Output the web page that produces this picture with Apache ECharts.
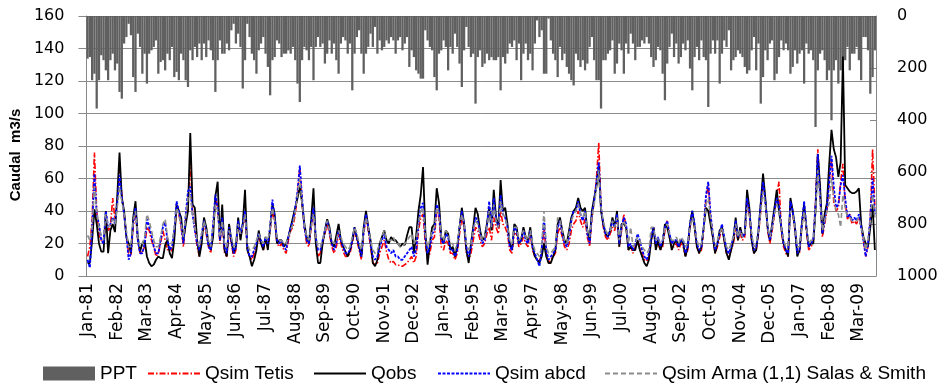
<!DOCTYPE html>
<html>
<head>
<meta charset="utf-8">
<script src="https://cdn.jsdelivr.net/npm/echarts@6/dist/echarts.min.js"></script>
<style>
html,body{margin:0;padding:0;background:#fff;}
#c{width:947px;height:384px;}
</style>
</head>
<body>
<div id="c"></div>
<script>
// Months Jan-1981 .. Oct-2009
const monthNames = ['Jan','Feb','Mar','Apr','May','Jun','Jul','Aug','Sep','Oct','Nov','Dec'];
const firstYear = 1981;
const nMonths = 346;

// PPT (mm), right inverted axis
const ppt = [
164,158,247,222,356,247,151,170,209,247,170,145,
209,183,292,318,106,81,30,74,235,292,68,119,
222,145,260,145,132,119,94,222,177,170,209,145,
170,119,235,215,247,145,170,247,273,132,170,119,
158,106,170,106,158,94,132,170,292,170,94,145,
145,106,132,55,30,106,68,119,279,170,30,81,
145,170,222,132,106,81,145,196,305,170,158,94,
106,158,145,145,132,145,119,170,260,331,170,119,
132,170,119,247,119,81,119,106,183,145,94,145,
106,170,222,106,81,94,145,106,286,145,81,55,
145,222,145,119,68,119,42,145,94,132,119,94,
106,81,94,145,94,81,132,106,81,196,132,158,
209,222,241,241,55,94,119,132,235,286,145,132,
94,119,209,119,145,68,119,183,273,132,42,119,
158,145,337,158,132,196,183,145,170,158,170,170,
158,286,158,183,145,106,119,94,170,106,247,145,
106,170,145,209,106,17,81,55,222,222,10,94,
145,170,235,119,170,145,196,222,247,267,145,170,
196,170,209,183,119,81,170,247,247,356,170,170,
145,132,94,222,183,106,132,222,106,145,68,106,
170,119,119,94,106,81,106,158,196,170,119,132,
222,324,183,119,68,158,106,183,158,106,132,94,
202,286,158,119,170,94,158,170,350,145,94,145,
94,260,145,94,119,55,209,170,158,132,145,158,
196,222,209,132,81,209,106,337,235,132,170,106,
94,247,222,158,94,132,106,132,222,196,132,183,
145,132,260,106,145,132,170,427,209,145,132,170,
247,209,401,209,170,260,209,196,170,119,209,145,
145,119,170,247,81,81,132,299,235,132
];

const qsimTetis = [
12,18,35,76,40,25,22,20,35,28,30,48,
35,45,65,50,38,25,14,12,30,40,22,14,
15,18,30,28,22,18,12,14,20,28,22,16,
18,15,25,42,38,30,18,35,45,70,40,30,
18,12,24,32,26,18,14,30,48,42,20,35,
14,12,28,20,12,16,32,24,30,38,16,12,
10,14,18,24,20,16,22,18,28,40,34,20,
18,20,16,14,22,28,30,38,50,67,45,30,
20,18,30,40,22,12,14,20,26,32,26,18,
14,18,26,20,15,12,12,14,20,28,22,16,
10,26,36,28,18,8,7,8,14,18,22,15,
10,8,9,7,7,6,6,7,8,10,12,8,
12,28,36,38,20,10,14,22,24,40,36,18,
16,22,20,14,14,10,14,26,36,30,14,10,
14,22,30,28,22,18,20,26,30,22,36,30,
26,40,32,30,26,16,14,26,26,18,20,24,
20,18,26,16,12,10,9,14,30,14,8,10,
12,14,26,30,24,18,16,20,28,32,34,40,
34,30,35,24,18,35,46,60,82,42,30,24,
22,26,30,28,36,18,28,38,30,16,18,14,
18,22,18,14,10,9,12,22,30,18,20,16,
18,28,34,24,18,18,20,16,20,18,12,16,
30,38,30,18,14,16,28,48,56,36,24,14,
18,24,30,22,14,12,16,20,30,22,26,22,
24,46,38,22,14,16,26,40,60,46,28,20,
28,38,50,58,28,18,14,12,46,38,28,14,
14,30,42,28,16,18,20,45,78,50,24,32,
40,60,72,45,40,42,58,69,45,35,38,32,
34,32,36,30,22,12,18,35,78,42
];

const qobs = [
8,8,22,41,32,20,15,15,40,14,28,32,
27,49,76,48,40,24,20,14,36,46,24,15,
20,22,12,8,6,7,10,12,11,11,19,22,
14,11,22,44,40,36,22,32,40,88,44,42,
22,12,20,36,30,20,16,24,49,58,22,44,
16,12,32,22,14,18,36,22,32,53,16,12,
6,10,16,28,20,16,24,16,30,44,38,20,
22,22,18,20,24,30,36,42,48,55,45,32,
24,20,35,54,20,8,8,20,28,35,30,20,
18,25,32,22,18,15,12,16,22,30,24,18,
12,30,40,30,22,8,6,10,20,24,28,22,
20,24,22,22,20,18,20,19,25,30,30,14,
25,40,50,67,28,7,20,30,32,54,45,24,
20,28,26,16,18,12,18,30,42,32,16,8,
20,30,42,38,28,22,24,32,42,28,53,36,
30,59,40,42,32,20,16,32,30,20,22,30,
24,22,30,18,12,10,8,12,20,12,8,8,
12,16,32,36,28,22,20,28,36,40,42,48,
42,40,42,28,22,40,48,55,67,40,32,26,
24,28,36,30,40,18,32,32,30,16,18,16,
16,22,16,12,8,6,10,22,30,16,22,16,
20,32,30,24,16,20,22,18,22,20,12,18,
32,40,30,18,14,18,30,42,40,32,24,14,
20,28,30,22,14,10,16,22,36,22,30,24,
26,53,42,22,14,16,28,45,63,48,30,22,
32,42,53,40,30,20,16,12,48,40,30,12,
16,32,44,30,18,20,20,40,75,55,26,38,
45,69,90,78,73,61,70,135,56,54,52,51,
51,52,54,32,24,20,18,30,44,16
];

const qsimAbcd = [
10,5,30,63,38,32,22,20,40,30,32,36,
32,45,62,48,38,25,10,14,33,42,22,14,
14,20,35,30,25,18,14,14,22,30,33,22,
16,18,28,46,40,32,20,38,52,55,38,28,
20,16,26,34,28,18,16,32,50,42,22,36,
18,14,30,22,14,18,34,26,32,40,18,12,
12,16,20,26,22,18,24,20,30,47,36,22,
20,22,18,16,24,30,34,42,52,68,48,30,
22,20,32,42,24,16,16,22,28,34,28,20,
16,20,28,22,18,14,14,16,22,30,24,18,
12,28,38,30,20,12,10,12,18,22,26,18,
16,14,16,12,12,10,10,12,14,16,18,12,
16,32,42,45,24,14,18,26,28,44,40,22,
20,26,24,16,16,12,16,30,40,32,18,12,
18,28,36,34,26,20,22,30,46,30,48,34,
30,50,38,36,30,18,16,30,28,20,22,28,
22,20,28,18,14,10,6,16,36,16,10,12,
14,16,30,34,26,20,18,24,34,40,40,46,
38,34,40,26,20,38,46,58,70,42,32,26,
24,28,34,30,38,20,30,36,32,18,20,16,
20,26,22,16,12,10,14,24,30,20,24,18,
22,30,34,26,20,22,22,18,22,22,14,18,
32,40,32,20,16,18,30,50,58,38,26,16,
20,26,32,24,16,14,18,24,34,24,28,24,
26,48,40,24,16,18,28,44,58,46,30,22,
30,40,48,44,30,20,16,14,46,40,30,14,
16,32,46,30,18,20,22,44,75,48,26,34,
42,58,74,55,42,44,56,62,48,36,38,34,
36,34,38,30,22,12,20,36,60,38
];

const qsimArma = [
25,22,30,55,40,30,25,22,38,30,32,35,
32,42,55,46,38,28,18,18,34,40,24,18,
20,24,38,34,28,22,18,18,24,32,35,24,
20,20,30,42,38,32,24,36,48,50,38,30,
22,18,26,34,28,22,18,30,44,40,24,34,
20,18,28,24,18,20,32,26,30,38,20,16,
16,18,22,26,22,20,24,22,30,42,34,24,
22,22,20,20,24,28,32,40,50,60,45,32,
24,22,30,38,24,18,18,22,28,34,28,22,
20,22,28,24,20,18,16,18,24,30,26,20,
16,28,36,30,22,16,14,16,20,24,28,22,
22,22,24,20,20,18,18,20,22,24,26,20,
22,32,40,42,26,18,22,28,30,42,38,24,
22,28,26,20,20,16,20,30,38,32,20,16,
20,28,34,32,26,22,24,30,40,30,44,34,
30,46,38,36,30,22,20,30,30,22,24,28,
24,22,28,20,16,14,12,18,40,18,14,14,
16,18,36,34,28,22,20,26,34,38,40,44,
38,36,40,28,24,36,44,54,65,42,34,28,
26,28,34,30,36,22,30,34,30,20,30,18,
20,24,22,18,16,14,16,30,30,22,24,20,
22,30,32,26,22,22,24,20,24,22,18,20,
30,36,30,22,18,20,28,44,48,36,26,18,
22,26,30,24,18,16,20,24,32,24,28,24,
26,42,38,26,18,20,28,40,52,44,30,24,
30,38,44,40,30,22,18,18,40,38,30,18,
18,30,40,30,20,22,22,40,65,46,28,34,
40,45,60,48,40,38,30,50,42,36,36,34,
34,34,36,30,24,16,22,34,50,36
];

const leftTicks = {min: 0, max: 160, interval: 20};
const rightTicks = {min: 0, max: 1000, interval: 200};
const seriesNames = ['PPT', 'Qsim Tetis', 'Qobs', 'Qsim abcd', 'Qsim Arma (1,1) Salas & Smith'];
const legendLefts = [38, 142, 308, 432, 599];

const categories = [];
for (let i = 0; i < nMonths; i++) {
  const y = firstYear + Math.floor(i / 12);
  const yy = String(y % 100).padStart(2, '0');
  categories.push(monthNames[i % 12] + '-' + yy);
}

const LEG_FONT = 'Liberation Sans';
const AX_FONT = 'DejaVu Sans';
const legends = seriesNames.map((name, k) => ({
  data: [k === 0 ? {name: name, icon: 'rect'} : {name: name}],
  left: legendLefts[k], top: 359,
  selectedMode: false,
  itemWidth: 52, itemHeight: 14, itemGap: 6,
  itemStyle: k === 0 ? {} : {opacity: 0},
  textStyle: {fontFamily: LEG_FONT, fontSize: 19, color: '#000'}
}));

const chart = echarts.init(document.getElementById('c'), null, {renderer: 'canvas'});
chart.setOption({
  animation: false,
  backgroundColor: '#ffffff',
  grid: {left: 85, right: 71, top: 16, bottom: 108, containLabel: false},
  legend: legends,
  xAxis: {
    type: 'category',
    data: categories,
    boundaryGap: true,
    axisLine: {show: true, lineStyle: {color: '#888', width: 1}},
    axisTick: {show: false},
    axisLabel: {interval: 12, rotate: 90, margin: 7, fontFamily: AX_FONT, fontSize: 17, color: '#000'},
    splitLine: {show: false}
  },
  yAxis: [
    {
      type: 'value',
      min: leftTicks.min, max: leftTicks.max, interval: leftTicks.interval,
      name: 'Caudal  m3/s', nameLocation: 'middle', nameGap: 58,
      nameTextStyle: {fontFamily: LEG_FONT, fontSize: 15, fontWeight: 'bold', color: '#000', padding: [0, 18, 0, 0]},
      axisLine: {show: true, lineStyle: {color: '#888'}},
      axisTick: {show: true, length: 8, lineStyle: {color: '#888'}},
      axisLabel: {fontFamily: AX_FONT, fontSize: 16, color: '#000', margin: 22},
      splitLine: {show: true, lineStyle: {color: '#8c8c8c', width: 1}}
    },
    {
      type: 'value',
      inverse: true,
      min: rightTicks.min, max: rightTicks.max, interval: rightTicks.interval,
      position: 'right',
      axisLine: {show: true, lineStyle: {color: '#888'}},
      axisTick: {show: true, inside: true, length: 6, lineStyle: {color: '#888'}},
      axisLabel: {fontFamily: AX_FONT, fontSize: 16, color: '#000', margin: 21, formatter: v => String(v)},
      splitLine: {show: false}
    }
  ],
  series: [
    {
      name: 'PPT', type: 'bar', yAxisIndex: 1, data: ppt,
      barCategoryGap: '0%', barGap: '0%',
      itemStyle: {color: '#606060'}
    },
    {
      name: 'Qsim Tetis', type: 'line', data: qsimTetis, symbol: 'none',
      lineStyle: {color: '#ff0000', width: 1.6, type: [6, 2, 1.5, 2]},
      itemStyle: {color: '#ff0000', opacity: 0}
    },
    {
      name: 'Qobs', type: 'line', data: qobs, symbol: 'none',
      lineStyle: {color: '#000000', width: 1.8, type: 'solid'},
      itemStyle: {color: '#000000', opacity: 0}
    },
    {
      name: 'Qsim abcd', type: 'line', data: qsimAbcd, symbol: 'none',
      lineStyle: {color: '#0000ff', width: 1.8, type: [3, 1.5]},
      itemStyle: {color: '#0000ff', opacity: 0}
    },
    {
      name: 'Qsim Arma (1,1) Salas & Smith', type: 'line', data: qsimArma, symbol: 'none',
      lineStyle: {color: '#8c8c8c', width: 1.6, type: [5, 3]},
      itemStyle: {color: '#8c8c8c', opacity: 0}
    }
  ]
});
</script>
</body>
</html>
